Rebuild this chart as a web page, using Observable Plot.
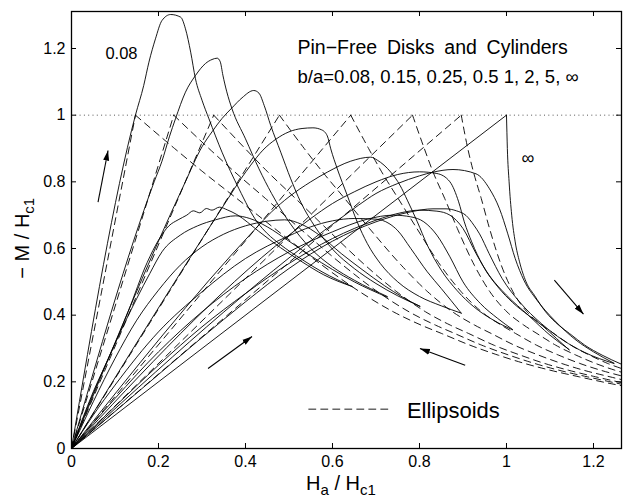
<!DOCTYPE html>
<html><head><meta charset="utf-8">
<script src="https://cdn.jsdelivr.net/npm/d3@7"></script>
<script src="https://cdn.jsdelivr.net/npm/@observablehq/plot@0.6"></script>
<style>
body{margin:0;background:#fff}
svg{font-family:"Liberation Sans",Arial,Helvetica,sans-serif}
</style>
</head><body><div id="chart"></div>
<script>
// ---------- tick values / labels ----------
const xTicks = [0, 0.2, 0.4, 0.6, 0.8, 1, 1.2];
const xTickLabels = ["0", "0.2", "0.4", "0.6", "0.8", "1", "1.2"];
const yTicks = [0, 0.2, 0.4, 0.6, 0.8, 1, 1.2];
const yTickLabels = ["0", "0.2", "0.4", "0.6", "0.8", "1", "1.2"];
const aspectRatios = ["0.08", "0.15", "0.25", "0.5", "1", "2", "5", "∞"];

// ---------- pin-free disks / cylinders: increasing-field branches (solid) ----------
const up_0_08 = [[0,0],[0.147,1.0],[0.166,1.089],[0.178,1.159],[0.193,1.229],[0.208,1.284],[0.228,1.302],[0.251,1.294],[0.262,1.259],[0.274,1.189],[0.285,1.109],[0.30,1.045],[0.316,0.989],[0.346,0.889],[0.385,0.779],[0.427,0.679],[0.45,0.645],[0.48,0.612],[0.53,0.567],[0.576,0.53],[0.645,0.486]];
const up_0_15 = [[0,0],[0.19,0.80],[0.208,0.862],[0.225,0.935],[0.239,0.989],[0.262,1.069],[0.285,1.119],[0.308,1.155],[0.323,1.167],[0.335,1.171],[0.342,1.16],[0.348,1.12],[0.357,1.07],[0.369,1.019],[0.40,0.929],[0.431,0.839],[0.46,0.765],[0.50,0.68],[0.55,0.60],[0.60,0.545],[0.65,0.505],[0.726,0.456]];
const up_0_25 = [[0,0],[0.26,0.795],[0.30,0.905],[0.323,0.950],[0.346,0.990],[0.369,1.022],[0.392,1.052],[0.419,1.074],[0.431,1.066],[0.443,1.029],[0.458,0.969],[0.481,0.889],[0.504,0.809],[0.527,0.739],[0.56,0.665],[0.60,0.598],[0.65,0.54],[0.70,0.495],[0.75,0.458],[0.801,0.427]];
const up_0_5 = [[0,0],[0.36,0.75],[0.39,0.81],[0.412,0.85],[0.44,0.895],[0.47,0.928],[0.50,0.95],[0.53,0.96],[0.555,0.962],[0.575,0.956],[0.588,0.938],[0.596,0.899],[0.611,0.839],[0.634,0.759],[0.657,0.679],[0.68,0.615],[0.71,0.555],[0.75,0.50],[0.80,0.456],[0.85,0.428],[0.896,0.406]];
const up_1 = [[0,0],[0.42,0.655],[0.46,0.71],[0.50,0.755],[0.55,0.80],[0.588,0.829],[0.642,0.862],[0.688,0.874],[0.703,0.865],[0.734,0.829],[0.755,0.79],[0.772,0.745],[0.795,0.68],[0.818,0.61],[0.85,0.535],[0.887,0.473],[0.925,0.425],[0.97,0.385],[1.014,0.356]];
const up_2 = [[0,0],[0.50,0.64],[0.55,0.69],[0.60,0.735],[0.65,0.77],[0.70,0.80],[0.75,0.822],[0.80,0.83],[0.84,0.825],[0.87,0.80],[0.89,0.74],[0.903,0.68],[0.92,0.62],[0.946,0.548],[0.98,0.485],[1.014,0.438],[1.05,0.40],[1.083,0.368],[1.115,0.33],[1.144,0.296]];
const up_5 = [[0,0],[0.62,0.692],[0.66,0.73],[0.70,0.765],[0.75,0.795],[0.80,0.818],[0.831,0.829],[0.877,0.837],[0.93,0.824],[0.961,0.779],[0.984,0.719],[1.003,0.644],[1.02,0.57],[1.04,0.505],[1.07,0.445],[1.11,0.385],[1.16,0.325],[1.20,0.29],[1.247,0.256]];
const up_inf_meissner = [[0,0],[1,1]];
const up_inf = [[1,1],[1.002,0.9],[1.006,0.8],[1.012,0.7],[1.02,0.62],[1.03,0.56],[1.045,0.50],[1.064,0.46],[1.09,0.41],[1.12,0.37],[1.145,0.345],[1.18,0.31],[1.22,0.28],[1.264,0.253]];

// ---------- decreasing-field branches (solid), listed from origin to turning point ----------
const down_0_08 = [[0,0],[0.05,0.17],[0.093,0.293],[0.13,0.41],[0.174,0.558],[0.2,0.625],[0.224,0.668],[0.245,0.686],[0.265,0.70],[0.28,0.713],[0.295,0.707],[0.31,0.72],[0.323,0.715],[0.34,0.724],[0.358,0.716],[0.38,0.702],[0.43,0.652],[0.48,0.603],[0.53,0.56],[0.58,0.521],[0.645,0.486]];
const down_0_15 = [[0,0],[0.05,0.165],[0.10,0.315],[0.15,0.45],[0.18,0.525],[0.208,0.59],[0.25,0.64],[0.29,0.668],[0.331,0.686],[0.377,0.698],[0.41,0.69],[0.45,0.665],[0.50,0.622],[0.55,0.578],[0.60,0.537],[0.65,0.50],[0.726,0.454]];
const down_0_25 = [[0,0],[0.05,0.14],[0.10,0.27],[0.15,0.385],[0.20,0.475],[0.25,0.55],[0.30,0.605],[0.35,0.643],[0.40,0.668],[0.45,0.682],[0.49,0.686],[0.53,0.672],[0.57,0.64],[0.62,0.585],[0.67,0.535],[0.72,0.488],[0.76,0.455],[0.801,0.426]];
const down_0_5 = [[0,0],[0.05,0.10],[0.10,0.19],[0.20,0.35],[0.30,0.47],[0.40,0.57],[0.50,0.638],[0.55,0.665],[0.60,0.683],[0.65,0.69],[0.70,0.688],[0.73,0.675],[0.749,0.655],[0.78,0.60],[0.818,0.53],[0.85,0.48],[0.896,0.406]];
const down_1 = [[0,0],[0.10,0.15],[0.20,0.29],[0.30,0.41],[0.40,0.51],[0.50,0.59],[0.60,0.65],[0.68,0.688],[0.74,0.70],[0.78,0.695],[0.81,0.68],[0.84,0.64],[0.87,0.575],[0.90,0.50],[0.94,0.435],[0.98,0.39],[1.014,0.357]];
const down_2 = [[0,0],[0.10,0.126],[0.20,0.25],[0.30,0.365],[0.40,0.465],[0.50,0.555],[0.60,0.63],[0.70,0.685],[0.76,0.708],[0.80,0.715],[0.84,0.712],[0.87,0.70],[0.90,0.66],[0.93,0.585],[0.96,0.52],[1.0,0.46],[1.05,0.40],[1.10,0.34],[1.144,0.297]];
const down_5 = [[0,0],[0.10,0.111],[0.20,0.222],[0.30,0.333],[0.40,0.44],[0.50,0.54],[0.60,0.622],[0.70,0.68],[0.78,0.71],[0.831,0.719],[0.861,0.719],[0.885,0.713],[0.907,0.699],[0.925,0.67],[0.938,0.644],[0.96,0.585],[0.99,0.51],[1.03,0.44],[1.08,0.375],[1.13,0.325],[1.18,0.288],[1.247,0.255]];

// ---------- ellipsoids (dashed) ----------
const ellipsoidPeaks = [0.147, 0.235, 0.327, 0.478, 0.642, 0.784, 0.896];
const ell_0_08 = [[0.147,1],[0.237,0.90],[0.302,0.83],[0.380,0.75],[0.467,0.66],[0.576,0.55],[0.663,0.47],[0.740,0.41],[0.804,0.37],[0.851,0.345],[0.916,0.31],[0.981,0.28],[1.042,0.255],[1.100,0.235],[1.167,0.215],[1.258,0.19],[1.355,0.17]];
const ell_0_15 = [[0.235,1],[0.316,0.90],[0.375,0.83],[0.446,0.75],[0.525,0.66],[0.624,0.55],[0.704,0.47],[0.776,0.41],[0.837,0.37],[0.881,0.345],[0.943,0.31],[1.006,0.28],[1.065,0.255],[1.120,0.235],[1.186,0.215],[1.275,0.19]];
const ell_0_25 = [[0.327,1],[0.399,0.90],[0.451,0.83],[0.515,0.75],[0.586,0.66],[0.675,0.55],[0.748,0.47],[0.814,0.41],[0.871,0.37],[0.913,0.345],[0.971,0.31],[1.032,0.28],[1.088,0.255],[1.142,0.235],[1.205,0.215],[1.292,0.19]];
const ell_0_5 = [[0.478,1],[0.535,0.90],[0.577,0.83],[0.628,0.75],[0.685,0.66],[0.758,0.55],[0.819,0.47],[0.876,0.41],[0.927,0.37],[0.965,0.345],[1.018,0.31],[1.074,0.28],[1.127,0.255],[1.177,0.235],[1.238,0.215],[1.321,0.19]];
const ell_1 = [[0.642,1],[0.683,0.90],[0.713,0.83],[0.751,0.75],[0.794,0.66],[0.848,0.55],[0.896,0.47],[0.943,0.41],[0.988,0.37],[1.021,0.345],[1.069,0.31],[1.120,0.28],[1.169,0.255],[1.216,0.235],[1.273,0.215]];
const ell_2 = [[0.784,1],[0.811,0.90],[0.831,0.83],[0.858,0.75],[0.887,0.66],[0.926,0.55],[0.962,0.47],[1.001,0.41],[1.040,0.37],[1.070,0.345],[1.113,0.31],[1.160,0.28],[1.205,0.255],[1.249,0.235],[1.304,0.215]];
const ell_5 = [[0.896,1],[0.911,0.90],[0.924,0.83],[0.942,0.75],[0.961,0.66],[0.988,0.55],[1.015,0.47],[1.047,0.41],[1.082,0.37],[1.109,0.345],[1.148,0.31],[1.191,0.28],[1.233,0.255],[1.276,0.235]];

// ---------- arrows, legend and annotations (data units) ----------
const arrowsData = [
  {x1: 0.061, y1: 0.739, x2: 0.084, y2: 0.894},
  {x1: 0.314, y1: 0.240, x2: 0.415, y2: 0.336},
  {x1: 1.110, y1: 0.505, x2: 1.177, y2: 0.403},
  {x1: 0.905, y1: 0.250, x2: 0.801, y2: 0.300}
];
const legendLine = [{x: 0.5455, y: 0.118}, {x: 0.7294, y: 0.118}];
const legendText = [{x: 0.771, y: 0.1138, text: "Ellipsoids"}];
const titleText = [{x: 0.5195, y: 1.2034, text: "Pin\u2212Free\u2002Disks\u2002and\u2002Cylinders"}];
const subtitleText = [{x: 0.5195, y: 1.1155, text: "b/a=" + aspectRatios.slice(0,4).join(", ") + " " + aspectRatios.slice(4).join(", ")}];
const label008 = [{x: 0.078, y: 1.185, text: aspectRatios[0]}];
const labelInf = [{x: 1.049, y: 0.872, text: aspectRatios[7]}];
const referenceLevel = [1];

// ---------- build rows ----------
const toRows = (series) => series.flatMap(([id, pts]) => pts.map(([x, y]) => ({id, x, y})));
const solidRows = toRows([
  ["u008", up_0_08], ["u015", up_0_15], ["u025", up_0_25], ["u05", up_0_5],
  ["u1", up_1], ["u2", up_2], ["u5", up_5], ["uinf", up_inf],
  ["d008", down_0_08], ["d015", down_0_15], ["d025", down_0_25], ["d05", down_0_5],
  ["d1", down_1], ["d2", down_2], ["d5", down_5]
]);
const straightRows = toRows([["minf", up_inf_meissner]]);
const ellRows = toRows([
  ["e008", ell_0_08], ["e015", ell_0_15], ["e025", ell_0_25], ["e05", ell_0_5],
  ["e1", ell_1], ["e2", ell_2], ["e5", ell_5]
]);
const ellMeissnerRows = ellipsoidPeaks.flatMap((p, i) => [{id: "m" + i, x: 0, y: 0}, {id: "m" + i, x: p, y: 1}]);

const W = 623, H = 501, mL = 71, mR = 2, mT = 11, mB = 53;
const xMax = 1.2644, yMax = 1.311;
const plotW = W - mL - mR, plotH = H - mT - mB;
const dash = "7,5";

const chart = Plot.plot({
  width: W, height: H,
  marginLeft: mL, marginRight: mR, marginTop: mT, marginBottom: mB,
  style: {background: "white", fontFamily: "'Liberation Sans', Arial, Helvetica, sans-serif", fontSize: "16px", color: "black"},
  x: {domain: [0, xMax], axis: null},
  y: {domain: [0, yMax], axis: null},
  marks: [
    Plot.ruleY(referenceLevel, {stroke: "#555", strokeDasharray: "1,3.3", strokeWidth: 1}),
    Plot.line(ellMeissnerRows, {x: "x", y: "y", z: "id", stroke: "black", strokeWidth: 0.9, strokeDasharray: dash, clip: true}),
    Plot.line(ellRows, {x: "x", y: "y", z: "id", curve: "monotone-x", stroke: "black", strokeWidth: 0.9, strokeDasharray: dash, clip: true}),
    Plot.line(straightRows, {x: "x", y: "y", z: "id", stroke: "black", strokeWidth: 0.9, clip: true}),
    Plot.line(solidRows, {x: "x", y: "y", z: "id", curve: "monotone-x", stroke: "black", strokeWidth: 0.9, clip: true}),
    Plot.line(legendLine, {x: "x", y: "y", stroke: "black", strokeWidth: 0.9, strokeDasharray: dash}),
    Plot.text(legendText, {x: "x", y: "y", text: "text", textAnchor: "start", lineAnchor: "middle", fontSize: 22, fill: "black"}),
    Plot.text(titleText, {x: "x", y: "y", text: "text", textAnchor: "start", lineAnchor: "middle", fontSize: 19.5, fill: "black"}),
    Plot.text(subtitleText, {x: "x", y: "y", text: "text", textAnchor: "start", lineAnchor: "middle", fontSize: 18.5, fill: "black"}),
    Plot.text(label008, {x: "x", y: "y", text: "text", textAnchor: "start", lineAnchor: "middle", fontSize: 16.5, fill: "black"}),
    Plot.text(labelInf, {x: "x", y: "y", text: "text", textAnchor: "middle", lineAnchor: "middle", fontSize: 18, fill: "black"}),
    Plot.link(arrowsData, {x1: "x1", y1: "y1", x2: "x2", y2: "y2", stroke: "black", strokeWidth: 1.1}),
    // inward ticks on all four sides
    Plot.tickX(xTicks, {x: d => d, insetTop: plotH - 5, stroke: "black"}),
    Plot.tickX(xTicks, {x: d => d, insetBottom: plotH - 5, stroke: "black"}),
    Plot.tickY(yTicks, {y: d => d, insetRight: plotW - 5, stroke: "black"}),
    Plot.tickY(yTicks, {y: d => d, insetLeft: plotW - 5, stroke: "black"}),
    Plot.axisX(xTicks, {tickSize: 0, tickPadding: 7, label: null, fontSize: 16, tickFormat: d => xTickLabels[xTicks.indexOf(d)]}),
    Plot.axisY(yTicks, {tickSize: 0, tickPadding: 6, label: null, fontSize: 16, tickFormat: d => yTickLabels[yTicks.indexOf(d)]}),
    Plot.frame({stroke: "black", strokeWidth: 1.3})
  ]
});
document.getElementById("chart").appendChild(chart);

// arrowheads (filled triangles) as SVG markers on the link paths
const svg = d3.select(chart);
const defs = svg.insert("defs", ":first-child");
defs.append("marker")
  .attr("id", "arrowhead").attr("viewBox", "0 0 10 7").attr("refX", 10).attr("refY", 3.5)
  .attr("markerWidth", 10).attr("markerHeight", 7).attr("markerUnits", "userSpaceOnUse").attr("orient", "auto")
  .append("path").attr("d", "M0,0.5L10,3.5L0,6.5Z").attr("fill", "black");
svg.selectAll('g[aria-label="link"] path').attr("marker-end", "url(#arrowhead)");

// axis titles with subscripts
const xl = svg.append("text").attr("x", mL + plotW * 0.5 - 5).attr("y", 490)
  .attr("text-anchor", "middle").attr("font-size", 20).attr("fill", "black");
xl.append("tspan").text("H");
xl.append("tspan").attr("font-size", 15).attr("dy", 5).text("a");
xl.append("tspan").attr("dy", -5).text(" / H");
xl.append("tspan").attr("font-size", 15).attr("dy", 5).text("c1");

const yl = svg.append("text").attr("transform", `translate(29,${mT + plotH * 0.52}) rotate(-90)`)
  .attr("text-anchor", "middle").attr("font-size", 20).attr("fill", "black");
yl.append("tspan").text("\u2212 M / H");
yl.append("tspan").attr("font-size", 15).attr("dy", 5).text("c1");
</script>
</body></html>
